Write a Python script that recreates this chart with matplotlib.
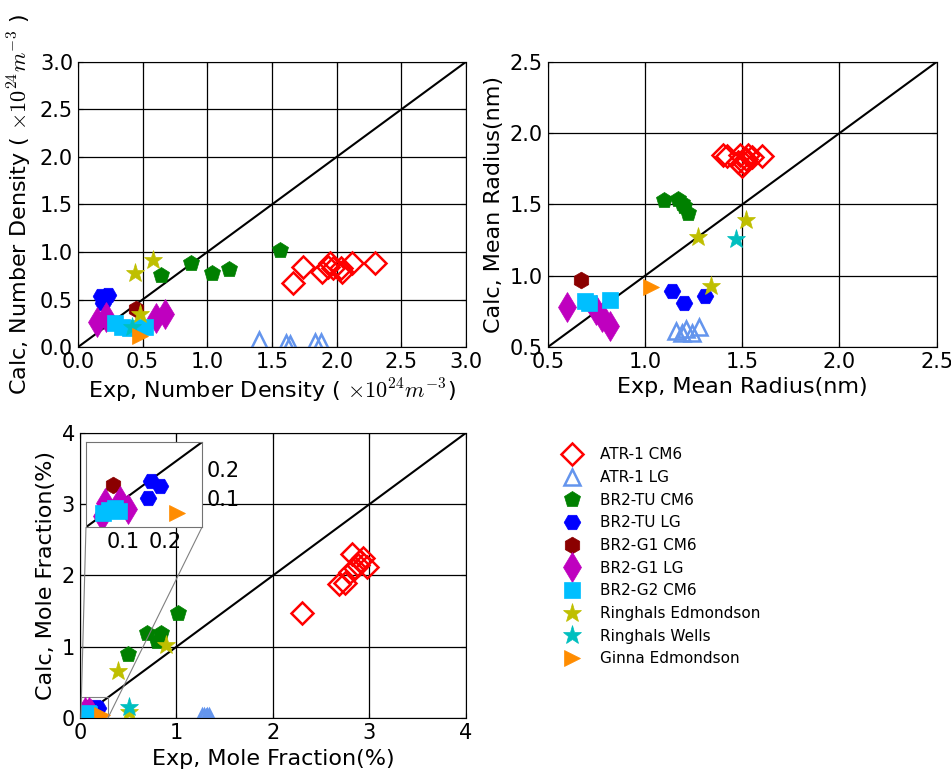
import matplotlib
matplotlib.use('Agg')
import matplotlib.pyplot as plt
from mpl_toolkits.axes_grid1.inset_locator import mark_inset

plt.rcParams['mathtext.fontset'] = 'cm'

labels = ['ATR-1 CM6', 'ATR-1 LG', 'BR2-TU CM6', 'BR2-TU LG', 'BR2-G1 CM6',
          'BR2-G1 LG', 'BR2-G2 CM6', 'Ringhals Edmondson', 'Ringhals Wells',
          'Ginna Edmondson']
markers = ['D', '^', 'p', 'H', 'h', 'd', 's', '*', '*', '>']
colors = ['r', 'cornflowerblue', 'g', 'b', 'darkred', 'm', 'deepskyblue',
          'y', 'c', 'darkorange']
hollow = [True, True, False, False, False, False, False, False, False, False]
sizes = [11, 11, 12, 12, 12, 15, 12, 14, 14, 12]

# Number density (x1e24 m^-3): exp, calc
nd_atr1_cm6_exp = [1.66, 1.74, 1.89, 1.93, 1.95, 1.97, 2.03, 2.04, 2.12, 2.30]
nd_atr1_cm6_calc = [0.67, 0.84, 0.79, 0.84, 0.88, 0.83, 0.83, 0.79, 0.88, 0.88]
nd_atr1_lg_exp = [1.40, 1.61, 1.64, 1.83, 1.88]
nd_atr1_lg_calc = [0.07, 0.04, 0.03, 0.05, 0.05]
nd_tu_cm6_exp = [0.64, 0.87, 1.04, 1.17, 1.56]
nd_tu_cm6_calc = [0.76, 0.88, 0.78, 0.82, 1.02]
nd_tu_lg_exp = [0.18, 0.23, 0.19]
nd_tu_lg_calc = [0.54, 0.55, 0.46]
nd_g1_cm6_exp = [0.45]
nd_g1_cm6_calc = [0.40]
nd_g1_lg_exp = [0.15, 0.22, 0.60, 0.67]
nd_g1_lg_calc = [0.26, 0.32, 0.31, 0.35]
nd_g2_cm6_exp = [0.29, 0.34, 0.40, 0.52]
nd_g2_cm6_calc = [0.25, 0.21, 0.20, 0.21]
nd_ring_ed_exp = [0.44, 0.58, 0.48]
nd_ring_ed_calc = [0.78, 0.92, 0.35]
nd_ring_wells_exp = [0.42]
nd_ring_wells_calc = [0.21]
nd_ginna_exp = [0.48]
nd_ginna_calc = [0.12]

# Mean radius (nm): exp, calc
mr_atr1_cm6_exp = [1.40, 1.42, 1.48, 1.49, 1.50, 1.51, 1.52, 1.53, 1.55, 1.60]
mr_atr1_cm6_calc = [1.85, 1.84, 1.80, 1.85, 1.77, 1.79, 1.82, 1.85, 1.83, 1.84]
mr_atr1_lg_exp = [1.16, 1.19, 1.21, 1.24, 1.28]
mr_atr1_lg_calc = [0.61, 0.60, 0.63, 0.60, 0.64]
mr_tu_cm6_exp = [1.10, 1.17, 1.19, 1.20, 1.22]
mr_tu_cm6_calc = [1.53, 1.54, 1.51, 1.49, 1.44]
mr_tu_lg_exp = [1.14, 1.20, 1.31]
mr_tu_lg_calc = [0.89, 0.81, 0.86]
mr_g1_cm6_exp = [0.67]
mr_g1_cm6_calc = [0.97]
mr_g1_lg_exp = [0.60, 0.75, 0.78, 0.82]
mr_g1_lg_calc = [0.78, 0.76, 0.71, 0.65]
mr_g2_cm6_exp = [0.69, 0.71, 0.82]
mr_g2_cm6_calc = [0.82, 0.81, 0.83]
mr_ring_ed_exp = [1.27, 1.34, 1.52]
mr_ring_ed_calc = [1.27, 0.93, 1.39]
mr_ring_wells_exp = [1.47]
mr_ring_wells_calc = [1.26]
mr_ginna_exp = [1.03]
mr_ginna_calc = [0.92]

# Mole fraction (%): exp, calc
mf_atr1_cm6_exp = [2.30, 2.68, 2.75, 2.80, 2.82, 2.85, 2.88, 2.90, 2.93, 2.97]
mf_atr1_cm6_calc = [1.48, 1.88, 1.90, 2.05, 2.30, 2.10, 2.15, 2.20, 2.25, 2.12]
mf_atr1_lg_exp = [1.27, 1.29, 1.31, 1.32, 1.34]
mf_atr1_lg_calc = [0.01, 0.02, 0.00, 0.02, 0.01]
mf_tu_cm6_exp = [0.50, 0.70, 0.80, 0.84, 1.02]
mf_tu_cm6_calc = [0.90, 1.19, 1.08, 1.20, 1.48]
mf_tu_lg_exp = [0.160, 0.167, 0.189]
mf_tu_lg_calc = [0.100, 0.159, 0.141]
mf_g1_cm6_exp = [0.075]
mf_g1_cm6_calc = [0.145]
mf_g1_lg_exp = [0.049, 0.056, 0.092, 0.111]
mf_g1_lg_calc = [0.038, 0.082, 0.089, 0.062]
mf_g2_cm6_exp = [0.050, 0.065, 0.080, 0.090]
mf_g2_cm6_calc = [0.050, 0.060, 0.065, 0.055]
mf_ring_ed_exp = [0.39, 0.51, 0.89]
mf_ring_ed_calc = [0.66, 0.09, 1.03]
mf_ring_wells_exp = [0.51]
mf_ring_wells_calc = [0.16]
mf_ginna_exp = [0.23]
mf_ginna_calc = [0.048]

nd_data = [(nd_atr1_cm6_exp, nd_atr1_cm6_calc), (nd_atr1_lg_exp, nd_atr1_lg_calc),
           (nd_tu_cm6_exp, nd_tu_cm6_calc), (nd_tu_lg_exp, nd_tu_lg_calc),
           (nd_g1_cm6_exp, nd_g1_cm6_calc), (nd_g1_lg_exp, nd_g1_lg_calc),
           (nd_g2_cm6_exp, nd_g2_cm6_calc), (nd_ring_ed_exp, nd_ring_ed_calc),
           (nd_ring_wells_exp, nd_ring_wells_calc), (nd_ginna_exp, nd_ginna_calc)]
mr_data = [(mr_atr1_cm6_exp, mr_atr1_cm6_calc), (mr_atr1_lg_exp, mr_atr1_lg_calc),
           (mr_tu_cm6_exp, mr_tu_cm6_calc), (mr_tu_lg_exp, mr_tu_lg_calc),
           (mr_g1_cm6_exp, mr_g1_cm6_calc), (mr_g1_lg_exp, mr_g1_lg_calc),
           (mr_g2_cm6_exp, mr_g2_cm6_calc), (mr_ring_ed_exp, mr_ring_ed_calc),
           (mr_ring_wells_exp, mr_ring_wells_calc), (mr_ginna_exp, mr_ginna_calc)]
mf_data = [(mf_atr1_cm6_exp, mf_atr1_cm6_calc), (mf_atr1_lg_exp, mf_atr1_lg_calc),
           (mf_tu_cm6_exp, mf_tu_cm6_calc), (mf_tu_lg_exp, mf_tu_lg_calc),
           (mf_g1_cm6_exp, mf_g1_cm6_calc), (mf_g1_lg_exp, mf_g1_lg_calc),
           (mf_g2_cm6_exp, mf_g2_cm6_calc), (mf_ring_ed_exp, mf_ring_ed_calc),
           (mf_ring_wells_exp, mf_ring_wells_calc), (mf_ginna_exp, mf_ginna_calc)]


def scatter_all(ax, data):
    handles = []
    for (x, y), lab, mk, c, h, ms in zip(data, labels, markers, colors, hollow, sizes):
        l, = ax.plot(x, y, linestyle='none', marker=mk, ms=ms,
                     mfc='none' if h else c, mec=c, mew=1.8 if h else 0.5,
                     label=lab)
        handles.append(l)
    return handles


def style(ax, lo, hi, step, fs=15):
    ax.plot([lo, hi], [lo, hi], 'k-', lw=1.5, zorder=1)
    ax.set_xlim(lo, hi)
    ax.set_ylim(lo, hi)
    ticks = [lo + i * step for i in range(int(round((hi - lo) / step)) + 1)]
    ax.set_xticks(ticks)
    ax.set_yticks(ticks)
    ax.grid(True, color='k', linestyle='-', lw=0.9)
    ax.set_axisbelow(True)
    ax.tick_params(direction='in', top=True, right=True, labelsize=fs)


fig = plt.figure(figsize=(9.51, 7.73), dpi=100)

ax1 = fig.add_axes([0.082, 0.551, 0.408, 0.369])
scatter_all(ax1, nd_data)
style(ax1, 0.0, 3.0, 0.5)
ax1.set_xticklabels(['0.0', '0.5', '1.0', '1.5', '2.0', '2.5', '3.0'])
ax1.set_yticklabels(['0.0', '0.5', '1.0', '1.5', '2.0', '2.5', '3.0'])
ax1.set_xlabel(r'Exp, Number Density ( $\times10^{24}m^{-3}$)', fontsize=16)
ax1.set_ylabel(r'Calc, Number Density ( $\times10^{24}m^{-3}$ )', fontsize=16)

ax2 = fig.add_axes([0.576, 0.551, 0.409, 0.369])
scatter_all(ax2, mr_data)
style(ax2, 0.5, 2.5, 0.5)
ax2.set_xlabel('Exp, Mean Radius(nm)', fontsize=16)
ax2.set_ylabel('Calc, Mean Radius(nm)', fontsize=16)

ax3 = fig.add_axes([0.084, 0.071, 0.406, 0.369])
handles = scatter_all(ax3, mf_data)
style(ax3, 0, 4, 1)
ax3.set_xlabel('Exp, Mole Fraction(%)', fontsize=16)
ax3.set_ylabel('Calc, Mole Fraction(%)', fontsize=16)

# zoomed inset for the small mole fractions
axin = fig.add_axes([0.0904, 0.318, 0.122, 0.110])
scatter_all(axin, mf_data)
axin.plot([0.01, 0.29], [0.0, 0.29], 'k-', lw=1.5, zorder=1)
axin.set_xlim(0.01, 0.29)
axin.set_ylim(0.0, 0.29)
axin.set_xticks([0.1, 0.2])
axin.set_yticks([0.1, 0.2])
axin.yaxis.tick_right()
axin.tick_params(direction='in', labelsize=15, length=0)
for sp in axin.spines.values():
    sp.set_color('0.45')
mark_inset(ax3, axin, loc1=3, loc2=4, fc='none', ec='0.5', lw=0.8)

fig.legend(handles=handles, loc='upper left', bbox_to_anchor=(0.571, 0.439),
           frameon=False, fontsize=11, numpoints=1, labelspacing=0.5,
           handletextpad=0.8)

fig.savefig('out.png', dpi=100)
